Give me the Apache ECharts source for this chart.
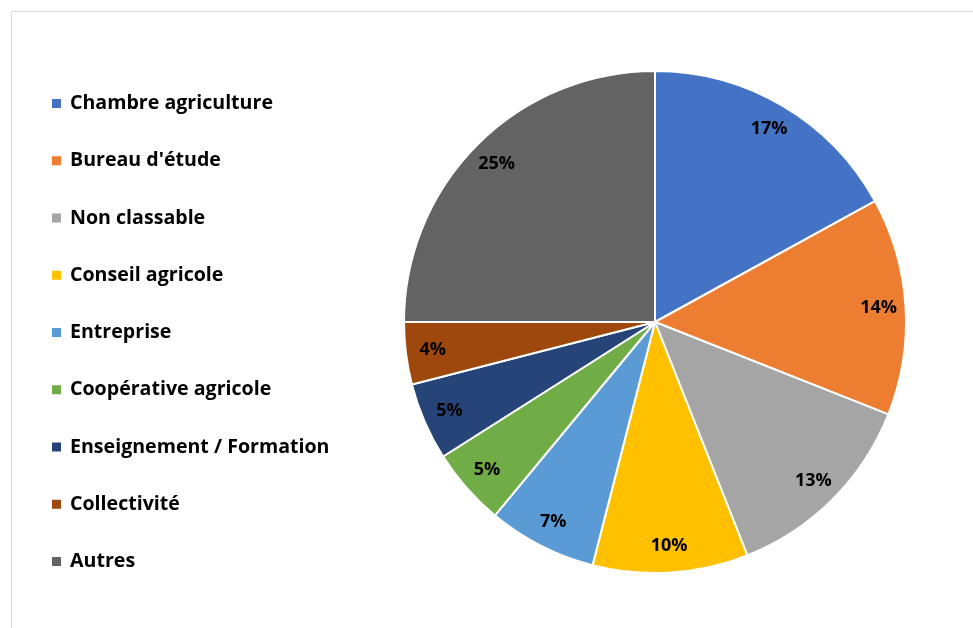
<!DOCTYPE html>
<html>
<head>
<meta charset="utf-8">
<script src="https://cdn.jsdelivr.net/npm/echarts@6/dist/echarts.min.js"></script>
<style>
  html, body { margin: 0; padding: 0; background: #fff; }
  #chart { width: 973px; height: 628px; }
</style>
</head>
<body>
<div id="chart"></div>
<script>
// categories and shares (percent)
var categories = ['Chambre agriculture', "Bureau d'étude", 'Non classable', 'Conseil agricole',
  'Entreprise', 'Coopérative agricole', 'Enseignement / Formation', 'Collectivité', 'Autres'];
var shares = [17, 14, 13, 10, 7, 5, 5, 4, 25];
var colors = ['#4472C4', '#ED7D31', '#A5A5A5', '#FFC000', '#5B9BD5', '#70AD47', '#264478', '#9E480E', '#636363'];

var chart = echarts.init(document.getElementById('chart'), null, { renderer: 'canvas' });

var pieData = categories.map(function (name, i) {
  return { name: name, value: shares[i] };
});

var option = {
  color: colors,
  animation: false,
  graphic: [{
    type: 'rect',
    shape: { x: 11.5, y: 11.5, width: 1000, height: 700 },
    style: { fill: 'none', stroke: '#d9d9d9', lineWidth: 1 },
    silent: true
  }],
  legend: {
    orient: 'vertical',
    left: 45,
    top: 88,
    itemWidth: 17,
    itemHeight: 11,
    itemGap: 36.25,
    icon: 'path://M0,0h8v8h-8z',
    data: categories,
    textStyle: { fontFamily: 'Open Sans', fontWeight: 'bold', fontSize: 19.6, color: '#000', lineHeight: 21 }
  },
  series: [
    {
      type: 'pie',
      center: [655, 322],
      radius: [0, 251],
      startAngle: 90,
      clockwise: true,
      data: pieData,
      itemStyle: { borderColor: '#fff', borderWidth: 2 },
      label: { show: false },
      labelLine: { show: false },
      emphasis: { disabled: true }
    },
    {
      // transparent ring used only to place the percentage labels near the rim
      type: 'pie',
      center: [655, 322],
      radius: [191, 251],
      startAngle: 90,
      clockwise: true,
      silent: true,
      data: pieData,
      itemStyle: { color: 'rgba(0,0,0,0)', borderWidth: 0 },
      label: {
        show: true,
        position: 'inside',
        formatter: '{c}%',
        fontFamily: 'Open Sans',
        fontWeight: 'bold',
        fontSize: 18,
        color: '#000'
      },
      labelLine: { show: false },
      emphasis: { disabled: true }
    }
  ]
};

chart.setOption(option);
</script>
</body>
</html>
